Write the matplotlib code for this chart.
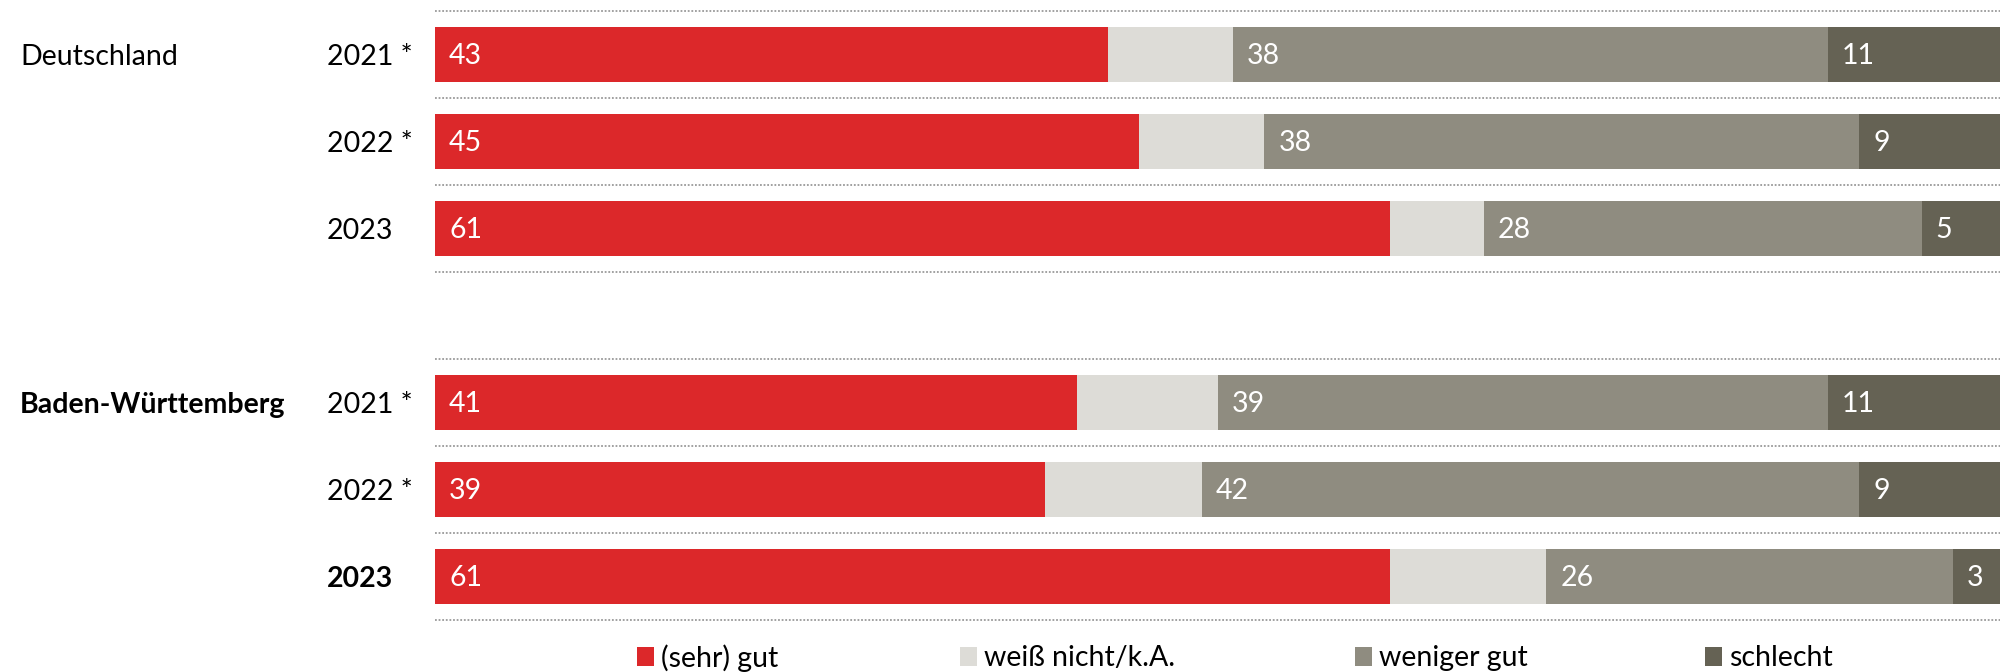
import numpy as np
import matplotlib.pyplot as plt
from matplotlib.patches import Rectangle

plt.rcParams['font.family'] = ['Lato', 'DejaVu Sans']

# Daten
gruppen = ['Deutschland', 'Baden-Württemberg']
jahre = ['2021 *', '2022 *', '2023']
kategorien = ['(sehr) gut', 'weiß nicht/k.A.', 'weniger gut', 'schlecht']
farben = ['#dc282a', '#dddcd7', '#8f8c80', '#656254']

gut = [43, 45, 61, 41, 39, 61]
weiss_nicht = [8, 8, 6, 9, 10, 10]
weniger_gut = [38, 38, 28, 39, 42, 26]
schlecht = [11, 9, 5, 11, 9, 3]

werte = np.array([gut, weiss_nicht, weniger_gut, schlecht])
zeilen = np.array([0, 1, 2, 4, 5, 6])

W, H = 2009, 672
fig = plt.figure(figsize=(W / 100, H / 100), dpi=100)
ax = fig.add_axes([435 / W, 0, 1565 / W, 1])
ax.set_xlim(0, 100)
ax.set_ylim((H - 54.5) / 87, -54.5 / 87)
ax.axis('off')

# gepunktete Trennlinien
for start in (0, 4):
    for y in np.arange(start - 0.5, start + 3, 1.0):
        ax.plot([0, 100], [y, y], color='#9a9a9a', lw=1.3,
                linestyle=(0, (1, 1)), solid_capstyle='butt')

# gestapelte Balken
links = np.zeros(len(zeilen))
for i, (kat, farbe) in enumerate(zip(kategorien, farben)):
    ax.barh(zeilen, werte[i], left=links, height=0.63, color=farbe, linewidth=0)
    if i != 1:
        for y, l, v in zip(zeilen, links, werte[i]):
            ax.text(l + 0.9, y + 0.02, str(v), color='white', fontsize=20.5,
                    va='center', ha='left')
    links += werte[i]

# Beschriftungen links
for g, (gruppe, start) in enumerate(zip(gruppen, (0, 4))):
    ax.annotate(gruppe, xy=(20 / W, start + 0.03), xycoords=(fig.transFigure, ax.transData),
                va='center', ha='left', fontsize=20.5,
                fontweight='bold' if g == 1 else 'normal')
    for j, jahr in enumerate(jahre):
        fett = (g == 1 and j == 2)
        ax.annotate(jahr, xy=(327 / W, start + j + 0.03), xycoords=(fig.transFigure, ax.transData),
                    va='center', ha='left', fontsize=20.5,
                    fontweight='bold' if fett else 'normal')

# Legende
leg_x = [637, 960, 1355, 1705]
for x, kat, farbe in zip(leg_x, kategorien, farben):
    fig.add_artist(Rectangle((x / W, 6 / H), 17 / W, 19 / H,
                             transform=fig.transFigure, color=farbe, lw=0))
    fig.text((x + 24) / W, 14 / H, kat, fontsize=20.5, va='center', ha='left')

plt.savefig('out.png', dpi=100)
